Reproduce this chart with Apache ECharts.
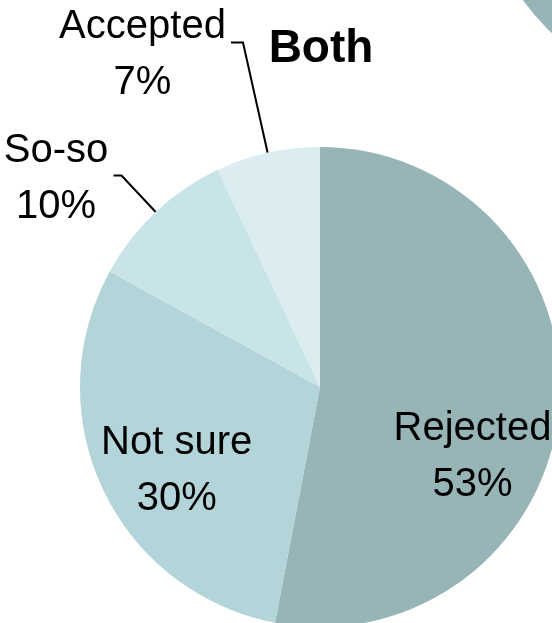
<!DOCTYPE html>
<html>
<head>
<meta charset="utf-8">
<script src="https://cdn.jsdelivr.net/npm/echarts@6/dist/echarts.min.js"></script>
<style>
  html, body { margin: 0; padding: 0; background: #ffffff; }
  #chart { width: 552px; height: 623px; }
</style>
</head>
<body>
<div id="chart"></div>
<script>
// Survey answers for the "Both" group
const categories = ['Rejected', 'Not sure', 'So-so', 'Accepted'];
const shares = [53, 30, 10, 7];
const sliceColors = ['#97b4b7', '#b3d5d9', '#c8e4e8', '#dbedf0'];

// Edge of the neighbouring pie that pokes into the top-right corner
const neighbourNames = ['Rejected'];
const neighbourShares = [100];
const neighbourColors = ['#97b4b7'];

const titleText = 'Both';

const labelFont = "'Liberation Sans', Arial, sans-serif";
const labelSize = 40;
const labelLineHeight = 56;

// Placement tweaks for labels drawn on the slices
const insideShift = {
  'Rejected': [30, 58],
  'Not sure': [-32, 32]
};
// Leader-line geometry for labels drawn outside the pie
const outsideLabels = {
  'So-so':    { length: 50,  length2: 8,  padTop: 6 },
  'Accepted': { length: 113, length2: 12, padTop: 24 }
};

const measureCtx = document.createElement('canvas').getContext('2d');
function textWidth(str) {
  measureCtx.font = labelSize + 'px ' + labelFont;
  return Math.ceil(measureCtx.measureText(str).width);
}

const pieData = categories.map(function (name, i) {
  const item = { name: name, value: shares[i], itemStyle: { color: sliceColors[i] } };
  const o = outsideLabels[name];
  if (o) {
    item.label = {
      position: 'outside',
      formatter: '{t|' + name + '}\n{t|' + shares[i] + '%}',
      padding: [o.padTop, 0, 0, 0],
      distanceToLabelLine: 5,
      rich: {
        t: {
          width: textWidth(name),
          align: 'center',
          fontFamily: labelFont,
          fontSize: labelSize,
          lineHeight: labelLineHeight,
          color: '#000000'
        }
      }
    };
    item.labelLine = {
      show: true,
      length: o.length,
      length2: o.length2,
      lineStyle: { color: '#000000', width: 2 }
    };
  } else {
    item.label = {
      position: 'inside',
      formatter: name + '\n' + shares[i] + '%',
      align: 'center'
    };
    item.labelLine = { show: false };
  }
  return item;
});

const chart = echarts.init(document.getElementById('chart'), null, { renderer: 'canvas' });

chart.setOption({
  animation: false,
  backgroundColor: '#ffffff',
  title: {
    text: titleText,
    left: 316,
    top: 21,
    textAlign: 'center',
    textStyle: {
      fontFamily: "'Liberation Sans', Arial, sans-serif",
      fontWeight: 'bold',
      fontSize: 46,
      color: '#000000'
    }
  },
  series: [
    {
      type: 'pie',
      name: 'Neighbour',
      silent: true,
      center: [717, -141],
      radius: 240,
      startAngle: 90,
      clockwise: true,
      label: { show: false },
      labelLine: { show: false },
      data: neighbourNames.map(function (n, i) {
        return { name: n, value: neighbourShares[i], itemStyle: { color: neighbourColors[i] } };
      })
    },
    {
      type: 'pie',
      name: titleText,
      center: [320, 387],
      radius: 240,
      startAngle: 90,
      clockwise: true,
      avoidLabelOverlap: false,
      itemStyle: { borderWidth: 0 },
      label: {
        show: true,
        fontFamily: labelFont,
        fontSize: labelSize,
        lineHeight: labelLineHeight,
        color: '#000000'
      },
      labelLayout: function (params) {
        if (params.seriesIndex !== 1) return {};
        const s = insideShift[categories[params.dataIndex]];
        return s ? { dx: s[0], dy: s[1] } : {};
      },
      data: pieData
    }
  ]
});
</script>
</body>
</html>
